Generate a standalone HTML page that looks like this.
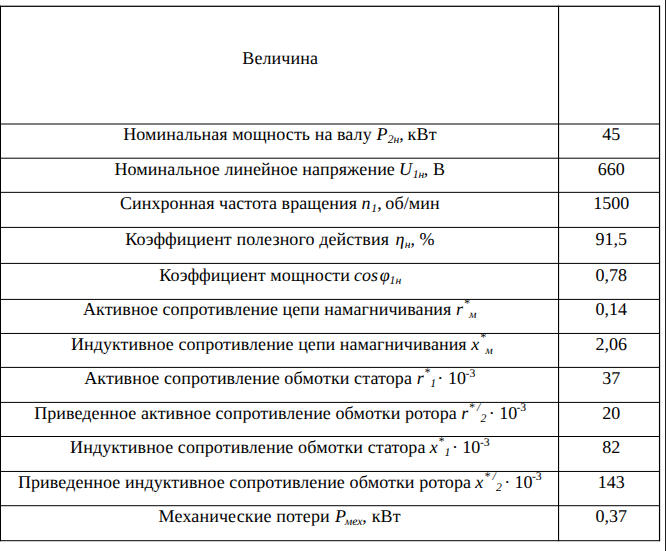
<!DOCTYPE html>
<html><head><meta charset="utf-8"><title>Table</title>
<style>
html,body{margin:0;padding:0;background:#fff;}
body{width:666px;height:551px;position:relative;overflow:hidden;font-family:"Liberation Serif",serif;font-size:18px;color:#000;text-rendering:geometricPrecision;}
svg{position:absolute;left:0;top:0;}
.r{position:absolute;left:0;width:666px;height:20px;}
.r span{position:absolute;top:0;white-space:nowrap;line-height:20px;height:20px;}
.i{font-style:italic;}
.b{font-style:italic;font-size:11.7px;}
.p{font-size:11.7px;}
.pi{font-size:11.7px;font-style:italic;}
.v{width:100px;text-align:center;}
</style></head><body>
<svg width="666" height="551" viewBox="0 0 666 551" fill="#000">
<rect x="0" y="5.65" width="660" height="1.35" fill="#161616"/>
<rect x="0" y="123.50" width="660" height="1"/>
<rect x="0" y="157.70" width="660" height="1"/>
<rect x="0" y="191.85" width="660" height="1"/>
<rect x="0" y="226.90" width="660" height="1"/>
<rect x="0" y="262.90" width="660" height="1"/>
<rect x="0" y="298.90" width="660" height="1"/>
<rect x="0" y="332.95" width="660" height="1"/>
<rect x="0" y="366.90" width="660" height="1"/>
<rect x="0" y="401.90" width="660" height="1"/>
<rect x="0" y="436.00" width="660" height="1"/>
<rect x="0" y="470.95" width="660" height="1"/>
<rect x="0" y="505.20" width="660" height="1"/>
<rect x="0" y="540.20" width="660" height="1"/>
<rect x="0" y="5.65" width="1" height="535.55"/>
<rect x="558" y="5.65" width="1.1" height="535.55"/>
<rect x="658.95" y="5.65" width="1.2" height="535.55"/>
<rect x="665" y="0" width="1" height="551" fill="#222"/>
</svg>
<div class="r" style="top:48px"><span style="left:242.35px;letter-spacing:0.09px">Величина</span></div>
<div class="r" id="r0" style="top:124px"><span style="left:123.25px;letter-spacing:0.0713px;">Номинальная мощность на валу</span><span class="i" style="left:376.40px;">P</span><span class="b" style="left:387.70px;top:6px;">2н</span><span style="left:399.20px;">,</span><span style="left:407.45px;letter-spacing:0.3px;">кВт</span><span class="v" style="left:561.15px">45</span></div>
<div class="r" id="r1" style="top:159px"><span style="left:114.45px;letter-spacing:0.0821px;">Номинальное линейное напряжение</span><span class="i" style="left:399.05px;">U</span><span class="b" style="left:412.70px;top:6px;">1н</span><span style="left:423.80px;">,</span><span style="left:433.10px;">В</span><span class="v" style="left:561.15px">660</span></div>
<div class="r" id="r2" style="top:193px"><span style="left:120.00px;letter-spacing:0.0675px;">Синхронная частота вращения</span><span class="i" style="left:361.55px;">n</span><span class="b" style="left:371.15px;top:6px;">1</span><span style="left:377.15px;">,</span><span style="left:385.30px;letter-spacing:0.1px;">об/мин</span><span class="v" style="left:561.15px">1500</span></div>
<div class="r" id="r3" style="top:229px"><span style="left:125.20px;letter-spacing:0.0993px;">Коэффициент полезного действия</span><span class="i" style="left:395.40px;">η</span><span class="b" style="left:404.70px;top:6px;">н</span><span style="left:410.60px;">,</span><span style="left:419.40px;">%</span><span class="v" style="left:561.15px">91,5</span></div>
<div class="r" id="r4" style="top:265px"><span style="left:159.20px;letter-spacing:0.0938px;">Коэффициент мощности</span><span class="i" style="left:354.00px;">cos</span><span class="i" style="left:379.65px;">φ</span><span class="b" style="left:389.40px;top:6px;">1</span><span class="b" style="left:395.55px;top:6px;">н</span><span class="v" style="left:561.15px">0,78</span></div>
<div class="r" id="r5" style="top:299px"><span style="left:83.00px;letter-spacing:0.0787px;">Активное сопротивление цепи намагничивания</span><span class="i" style="left:456.10px;">r</span><span class="p" style="left:464.35px;top:-5px;">*</span><span class="b" style="left:469.00px;top:6px;">м</span><span class="v" style="left:561.15px">0,14</span></div>
<div class="r" id="r6" style="top:334px"><span style="left:71.00px;letter-spacing:0.0623px;">Индуктивное сопротивление цепи намагничивания</span><span class="i" style="left:471.15px;">x</span><span class="p" style="left:480.40px;top:-6px;">*</span><span class="b" style="left:485.20px;top:7px;">м</span><span class="v" style="left:561.15px">2,06</span></div>
<div class="r" id="r7" style="top:368px"><span style="left:84.20px;letter-spacing:0.1066px;">Активное сопротивление обмотки статора</span><span class="i" style="left:416.70px;">r</span><span class="p" style="left:424.65px;top:-5px;">*</span><span class="b" style="left:430.20px;top:6px;">1</span><span style="left:437.35px;">·</span><span style="left:448.00px;">10</span><span class="p" style="left:465.50px;top:-4px;">-3</span><span class="v" style="left:561.15px">37</span></div>
<div class="r" id="r8" style="top:403px"><span style="left:34.20px;letter-spacing:0.0767px;">Приведенное активное сопротивление обмотки ротора</span><span class="i" style="left:461.20px;">r</span><span class="p" style="left:469.15px;top:-5px;">*</span><span class="pi" style="left:476.90px;top:-5px;">/</span><span class="b" style="left:480.40px;top:6px;">2</span><span style="left:488.80px;">·</span><span style="left:499.20px;">10</span><span class="p" style="left:516.40px;top:-5px;">-3</span><span class="v" style="left:561.15px">20</span></div>
<div class="r" id="r9" style="top:437px"><span style="left:70.10px;letter-spacing:0.0935px;">Индуктивное сопротивление обмотки статора</span><span class="i" style="left:429.65px;">x</span><span class="p" style="left:438.75px;top:-5px;">*</span><span class="b" style="left:444.45px;top:6px;">1</span><span style="left:452.00px;">·</span><span style="left:462.30px;">10</span><span class="p" style="left:479.95px;top:-4px;">-3</span><span class="v" style="left:561.15px">82</span></div>
<div class="r" id="r10" style="top:472px"><span style="left:17.90px;letter-spacing:0.0951px;">Приведенное индуктивное сопротивление обмотки ротора</span><span class="i" style="left:475.30px;">x</span><span class="p" style="left:484.70px;top:-5px;">*</span><span class="pi" style="left:492.60px;top:-5px;">/</span><span class="b" style="left:496.10px;top:6px;">2</span><span style="left:504.20px;">·</span><span style="left:514.40px;">10</span><span class="p" style="left:531.90px;top:-5px;">-3</span><span class="v" style="left:561.15px">143</span></div>
<div class="r" id="r11" style="top:506px"><span style="left:158.60px;letter-spacing:0.1322px;">Механические потери</span><span class="i" style="left:335.05px;">P</span><span class="b" style="left:344.85px;top:6px;">мех</span><span style="left:362.25px;">,</span><span style="left:371.70px;letter-spacing:0.15px;">кВт</span><span class="v" style="left:561.15px">0,37</span></div>
</body></html>
